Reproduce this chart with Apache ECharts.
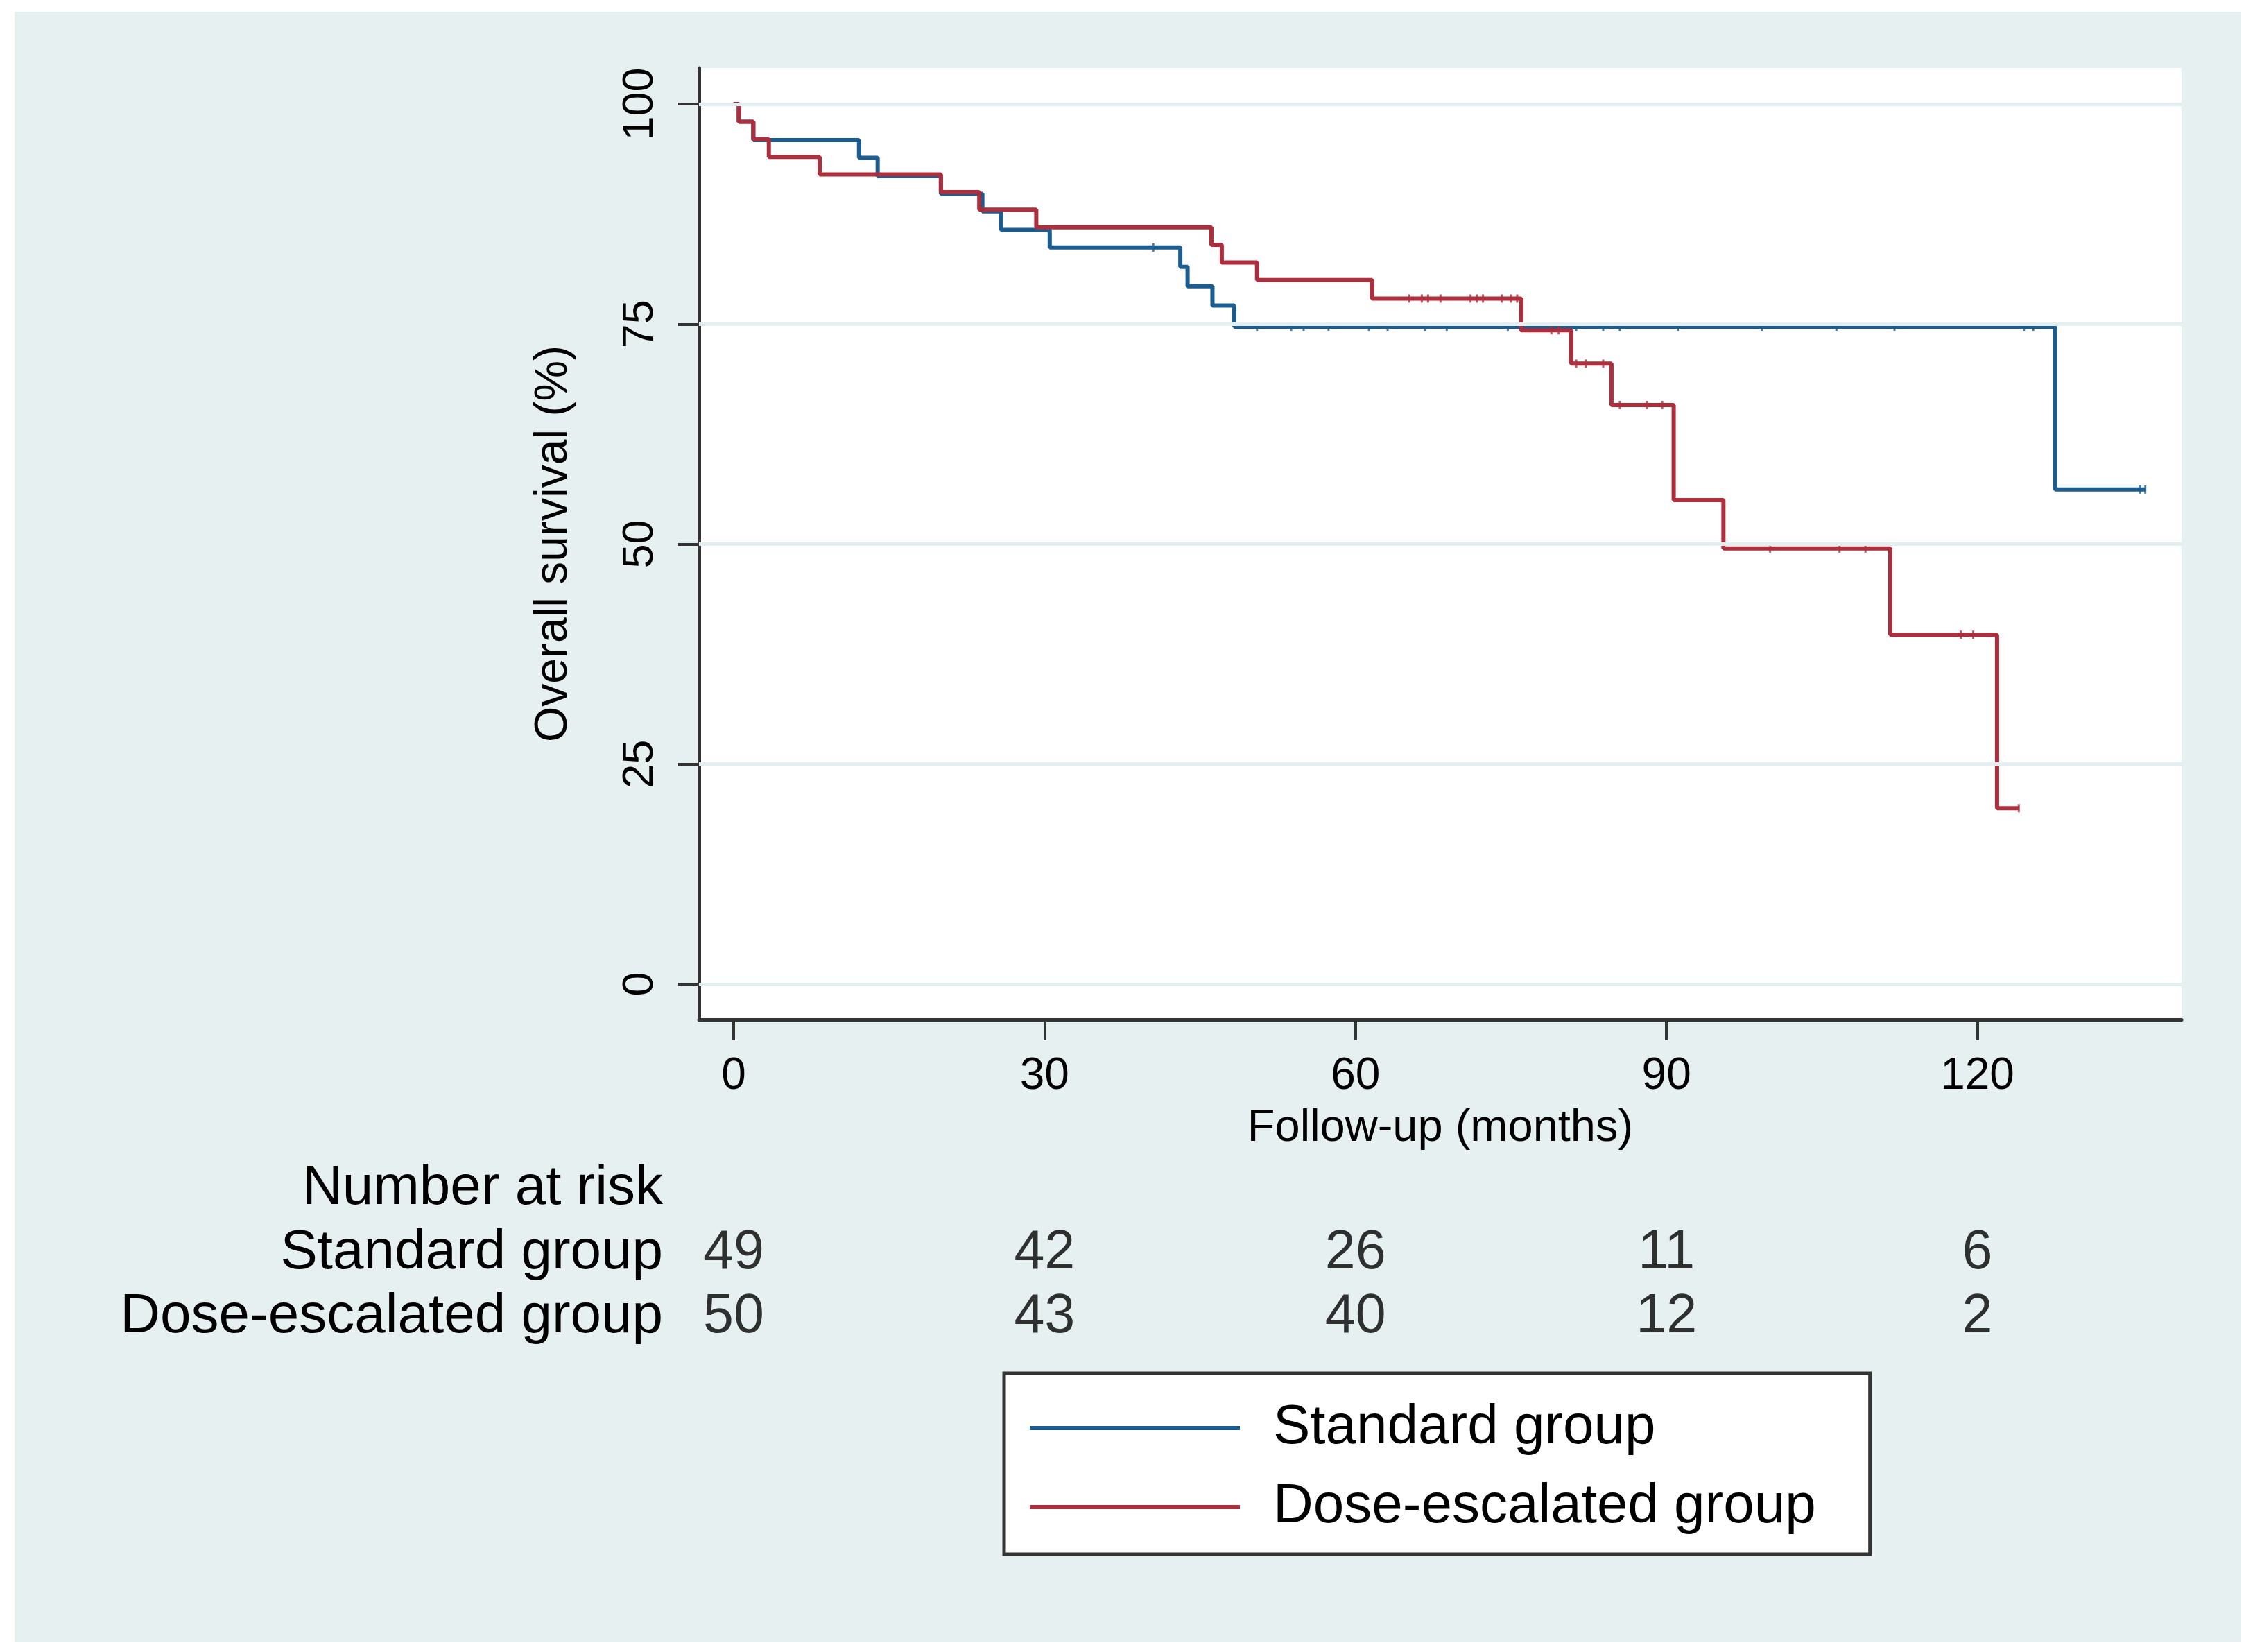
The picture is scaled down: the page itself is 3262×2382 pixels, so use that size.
<!DOCTYPE html>
<html>
<head>
<meta charset="utf-8">
<script src="https://cdn.jsdelivr.net/npm/echarts@6/dist/echarts.min.js"></script>
<style>
  html, body { margin: 0; padding: 0; background: #ffffff; width: 3262px; height: 2382px; overflow: hidden; }
  #chart { position: absolute; left: 21px; top: 17px; width: 3211px; height: 2351px; }
</style>
</head>
<body>
<div id="chart"></div>
<script>
// ---- data ----
const xTicks = [0, 30, 60, 90, 120];
const yTicks = [0, 25, 50, 75, 100];

const stdTimes = [0, 0.5, 1.9, 12.1, 13.9, 20.0, 24.0, 25.8, 30.5, 43.1, 43.8, 46.2, 48.3, 127.5, 136.2];
const stdSurv  = [100, 98, 95.9, 93.9, 91.8, 89.8, 87.8, 85.7, 83.7, 81.5, 79.3, 77.1, 74.7, 56.2, 56.2];

const doseTimes = [0, 0.5, 1.9, 3.4, 8.3, 20.0, 23.7, 29.2, 46.1, 47.1, 50.5, 61.6, 76.0, 80.8, 84.7, 90.7, 95.5, 111.6, 121.9, 124.0];
const doseSurv  = [100, 98, 96, 94, 92, 90, 88, 86, 84, 82, 80, 77.9, 74.3, 70.5, 65.8, 55.0, 49.5, 39.7, 20.0, 20.0];

const stdCensor  = [40.5, 50.5, 53.8, 55.0, 57.4, 61.3, 63.1, 66.7, 68.8, 74.7, 75.9, 81.3, 83.9, 85.5, 91.1, 99.2, 106.4, 112.0, 124.5, 125.4, 135.7, 136.2];
const doseCensor = [65.2, 66.4, 67.0, 68.2, 71.1, 71.7, 72.3, 74.1, 75.0, 75.6, 78.9, 79.6, 81.3, 82.2, 83.9, 85.5, 88.1, 89.6, 100.0, 106.7, 109.2, 118.4, 119.6, 124.0];

const riskTimes = [0, 30, 60, 90, 120];
const riskStd   = [49, 42, 26, 11, 6];
const riskDose  = [50, 43, 40, 12, 2];

const groupNames = ['Standard group', 'Dose-escalated group'];
const riskRows = ['Number at risk', 'Standard group', 'Dose-escalated group'];

// ---- helpers ----
function survAt(times, surv, t) {
  let s = surv[0];
  for (let i = 0; i < times.length; i++) { if (times[i] <= t) s = surv[i]; }
  return s;
}
const pairs = (a, b) => a.map((v, i) => [v, b[i]]);

const FONT = '"Liberation Sans", Arial, Helvetica, sans-serif';
const BLUE = '#1d5c8e';
const RED = '#ad2f3d';
const AX = '#333333';
const GRIDC = '#e3eef0';
const XMIN = -3.34, XMAX = 139.7, YMIN = -4.02, YMAX = 104.1;

const chart = echarts.init(document.getElementById('chart'), null, { renderer: 'canvas' });

const option = {
  backgroundColor: '#e6f0f1',
  animation: false,
  textStyle: { fontFamily: FONT, color: '#000' },
  grid: [
    { left: 987, top: 81, width: 2138, height: 1372, show: true, backgroundColor: '#ffffff', borderWidth: 0, containLabel: false },
    { left: 987, top: 1651, width: 2138, height: 277.5, show: false, containLabel: false }
  ],
  xAxis: [
    {
      gridIndex: 0, type: 'value', min: XMIN, max: XMAX,
      name: 'Follow-up (months)', nameLocation: 'middle', nameGap: 125,
      nameTextStyle: { fontSize: 65, color: '#000', fontFamily: FONT },
      axisLine: { show: true, onZero: false, lineStyle: { color: AX, width: 5 } },
      axisTick: { show: true, customValues: xTicks, length: 30, lineStyle: { color: AX, width: 4 } },
      axisLabel: { show: true, customValues: xTicks, fontSize: 64, color: '#000', margin: 50, fontFamily: FONT },
      splitLine: { show: false }
    },
    {
      gridIndex: 1, type: 'value', min: XMIN, max: XMAX, show: false
    }
  ],
  yAxis: [
    {
      gridIndex: 0, type: 'value', min: YMIN, max: YMAX,
      name: 'Overall survival (%)', nameLocation: 'middle', nameGap: 176, nameRotate: 90,
      nameTextStyle: { fontSize: 66, color: '#000', fontFamily: FONT },
      axisLine: { show: true, onZero: false, lineStyle: { color: AX, width: 5 } },
      axisTick: { show: true, customValues: yTicks, length: 30, lineStyle: { color: AX, width: 4 } },
      axisLabel: { show: true, customValues: yTicks, rotate: 90, fontSize: 63, color: '#000', margin: 53, fontFamily: FONT },
      splitLine: { show: false }
    },
    {
      gridIndex: 1, type: 'category', data: riskRows, inverse: true,
      axisLine: { show: false }, axisTick: { show: false }, splitLine: { show: false },
      axisLabel: { show: true, interval: 0, hideOverlap: false, fontSize: 80, color: '#000', margin: 52, fontFamily: FONT }
    }
  ],
  legend: {
    show: true, orient: 'vertical', left: 1427, top: 1963,
    data: groupNames, icon: 'rect', itemWidth: 303, itemHeight: 6, itemGap: 14,
    padding: [29, 78, 18, 37],
    backgroundColor: '#ffffff', borderColor: '#333333', borderWidth: 5, borderRadius: 0,
    textStyle: { fontSize: 80, color: '#000', lineHeight: 100, fontFamily: FONT, padding: [0, 0, 0, 43] },
    selectedMode: false
  },
  series: [
    {
      name: 'gridlines', type: 'line', xAxisIndex: 0, yAxisIndex: 0, data: [], z: 1, silent: true,
      markLine: {
        silent: true, symbol: ['none', 'none'], label: { show: false }, animation: false,
        lineStyle: { color: GRIDC, width: 5, type: 'solid' },
        data: yTicks.map(v => ({ yAxis: v }))
      }
    },
    {
      name: groupNames[0], type: 'line', step: 'end', xAxisIndex: 0, yAxisIndex: 0, z: 3,
      data: pairs(stdTimes, stdSurv), showSymbol: false, symbol: 'none',
      lineStyle: { color: BLUE, width: 6 }, itemStyle: { color: BLUE }
    },
    {
      name: groupNames[1], type: 'line', step: 'end', xAxisIndex: 0, yAxisIndex: 0, z: 4,
      data: pairs(doseTimes, doseSurv), showSymbol: false, symbol: 'none',
      lineStyle: { color: RED, width: 6 }, itemStyle: { color: RED }
    },
    {
      name: 'std-censor', type: 'scatter', xAxisIndex: 0, yAxisIndex: 0, z: 3, silent: true,
      data: stdCensor.map(t => [t, survAt(stdTimes, stdSurv, t)]),
      symbol: 'rect', symbolSize: [3, 12], itemStyle: { color: BLUE }
    },
    {
      name: 'dose-censor', type: 'scatter', xAxisIndex: 0, yAxisIndex: 0, z: 4, silent: true,
      data: doseCensor.map(t => [t, survAt(doseTimes, doseSurv, t)]),
      symbol: 'rect', symbolSize: [3, 12], itemStyle: { color: RED }
    },
    {
      name: 'risk', type: 'scatter', xAxisIndex: 1, yAxisIndex: 1, silent: true,
      data: riskTimes.map((t, i) => [t, riskRows[1], riskStd[i]]).concat(riskTimes.map((t, i) => [t, riskRows[2], riskDose[i]])),
      symbolSize: 1, itemStyle: { color: 'rgba(0,0,0,0)' },
      label: { show: true, position: 'inside', formatter: p => String(p.value[2]), fontSize: 79, color: '#000', fontFamily: FONT }
    }
  ]
};
chart.setOption(option);
</script>
</body>
</html>
